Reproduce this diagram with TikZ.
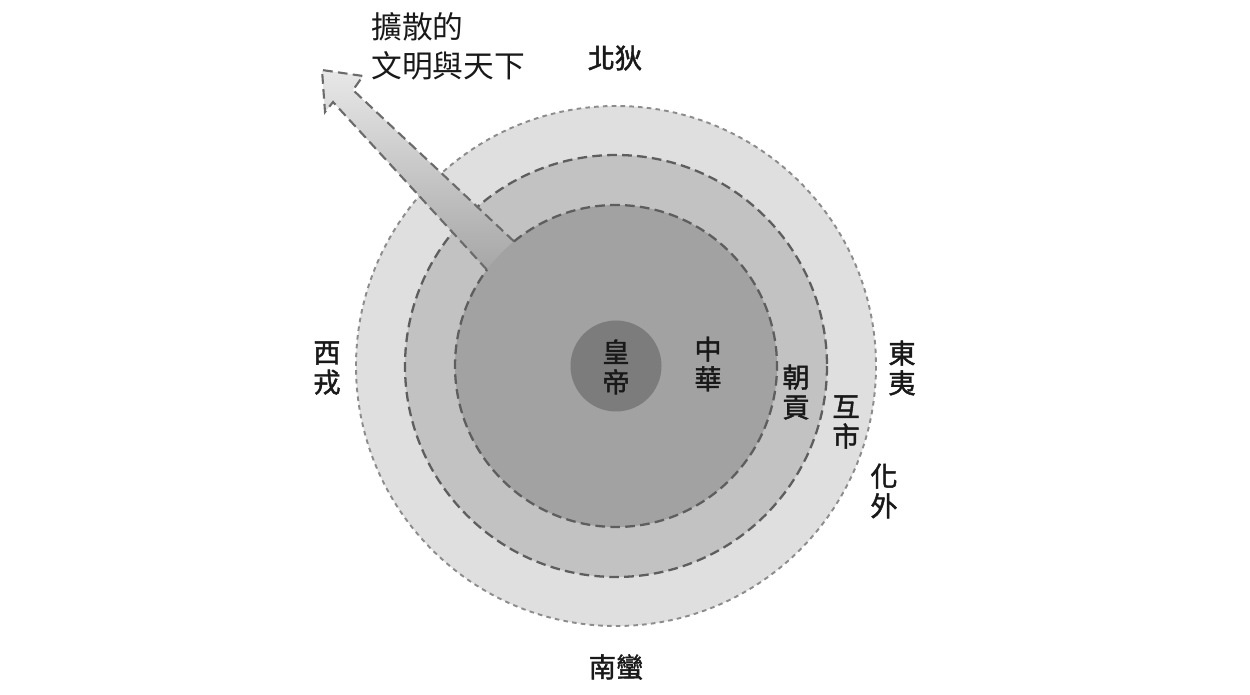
\documentclass[tikz,border=0pt]{standalone}
\usepackage{fontspec}
\usetikzlibrary{calc}
\newfontfamily\cjk{Noto Sans CJK TC}
\newfontfamily\cjkm{Noto Sans CJK TC}[FakeBold=1.6]
\definecolor{outerg}{HTML}{DFDFDF}
\definecolor{midg}{HTML}{C2C2C2}
\definecolor{innerg}{HTML}{A2A2A2}
\definecolor{coreg}{HTML}{7C7C7C}
\definecolor{lineg}{HTML}{5E5E5E}
\definecolor{dotg}{HTML}{8C8C8C}
\begin{document}
\begin{tikzpicture}[x=0.02cm,y=-0.02cm,
  lbl/.style={font=\cjkm\fontsize{15.5}{17}\selectfont, align=center, inner sep=0pt, text=black!90},
  toplbl/.style={font=\cjk\fontsize{17.5}{22}\selectfont, align=left, inner sep=0pt, text=black!90},
  dashring/.style={draw=lineg, line width=1.3pt, dash pattern=on 5.5pt off 3pt},
  dotring/.style={draw=dotg, line width=1.1pt, dash pattern=on 2.6pt off 2.4pt},
  arrowline/.style={draw=black!58, line width=1.2pt, dash pattern=on 5.5pt off 3pt, line join=miter}
]
\fill[white] (0,0) rectangle (1250,695);
\useasboundingbox (0,0) rectangle (1250,695);
\coordinate (C) at (616,366);
% rings
\fill[outerg] (C) circle[radius=260];
\draw[dotring] (C) circle[radius=260];
\fill[midg] (C) circle[radius=211];
\draw[dashring] (C) circle[radius=211];
% arrow
\coordinate (L1) at ($(C)+(216.7:161)$);
\coordinate (R1) at ($(C)+(230.7:161)$);
\coordinate (SL) at (333,102);
\coordinate (LB) at (325,112);
\coordinate (T) at (322,70);
\coordinate (RB) at (363,76);
\coordinate (SR) at (353,90);
\coordinate (I1) at (540,270);
\coordinate (I2) at (515,295);
\shade[shading angle=45, top color=black!9, middle color=black!36, bottom color=black!38]
  (L1)--(SL)--(LB)--(T)--(RB)--(SR)--(R1)--(I1)--(I2)--cycle;
\fill[innerg] (C) circle[radius=161];
\draw[arrowline] (L1)--(SL)--(LB)--(T)--(RB)--(SR)--(R1);
\draw[dashring] (R1) arc[start angle=230.7, end angle=576.7, radius=161];
\fill[coreg] (C) circle[radius=45.5];
% labels
\node[lbl] (huangdi) at (616,367) {皇\\帝};
\node[lbl] (zhonghua) at (708,364) {中\\華};
\node[lbl] (chaogong) at (796,392) {朝\\貢};
\node[lbl] (hushi) at (846,422) {互\\市};
\node[lbl] (dongyi) at (902,368) {東\\夷};
\node[lbl] (huawai) at (884,491) {化\\外};
\node[lbl] (xirong) at (327,368) {西\\戎};
\node[lbl] (beidi) at (615,58) {北狄};
\node[lbl] (nanman) at (616,667) {南蠻};
\node[toplbl, anchor=north west] (kuosan) at (371,12) {擴散的\\文明與天下};
\end{tikzpicture}
\end{document}
